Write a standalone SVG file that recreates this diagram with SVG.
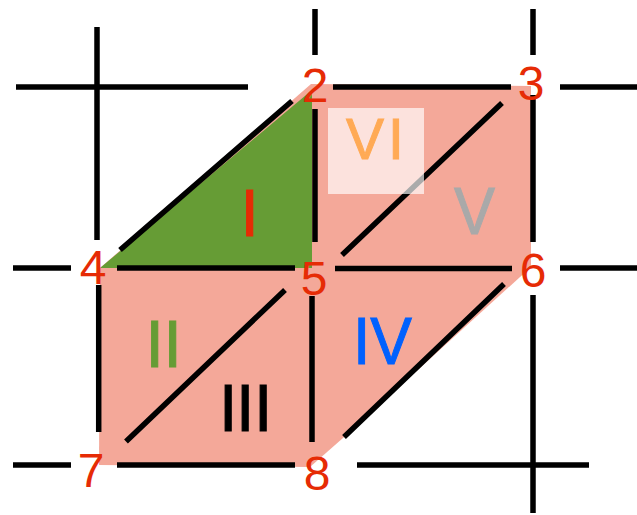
<svg xmlns="http://www.w3.org/2000/svg" width="637" height="515" viewBox="0 0 637 515">
<style>
.l{stroke:#000;stroke-width:5.5;fill:none}
text{font-family:"Liberation Sans",Arial,sans-serif}
.n{font-size:48px;fill:#e62b05;text-anchor:middle}
.r{font-size:66px;stroke-width:1}
</style>
<rect width="637" height="515" fill="#fff"/>
<g id="faces">
<polygon points="100,268 311,84 531,86 531,267 343,438 310,467 99,465" fill="#f4a899"/>
<polygon points="100,268 312,90 312,268" fill="#669c35"/>
</g>
<g id="connectors">
<path class="l" d="M97 27V240M16 87H248M315 9V55M315 109V242M533 9V55M533 95V242M333 87H511M560 87H637"/>
<path class="l" d="M292 101L120 250M13 268H71M117 268H295M335 268.500H512M560 268H637"/>
<path class="l" d="M98.700 285V432M285 290L126 441.500M312 296V442M13 465H71M117 465H295M357 465H589M533 295V513"/>
<path class="l" d="M502 103L342 255M504 284L344 437"/>
</g>
<rect id="panel" x="328" y="108" width="96" height="86" fill="#fff" fill-opacity="0.67"/>
<g id="face-I"><text class="r" x="240.500" y="235.500" fill="#e62b05" stroke="#e62b05">I</text></g>
<g id="face-II"><text class="r" x="145.500 163.500" y="366.500" fill="#669c35" stroke="#669c35">II</text></g>
<g id="face-III"><text class="r" x="219 236 254" y="430.500" fill="#000" stroke="#000">III</text></g>
<g id="face-IV"><text class="r" x="353" y="364" textLength="59" lengthAdjust="spacingAndGlyphs" fill="#0061fe" stroke="#0061fe">IV</text></g>
<g id="face-V"><text class="r" x="454" y="233.500" textLength="41" lengthAdjust="spacingAndGlyphs" fill="#a9a9a9" stroke="#a9a9a9">V</text></g>
<g id="face-VI"><text x="346 388" y="159" font-size="57" fill="#ffaa55" stroke="#ffaa55" stroke-width="1">VI</text></g>
<g id="node-2"><text class="n" x="315" y="102">2</text></g>
<g id="node-3"><text class="n" x="531" y="100">3</text></g>
<g id="node-4"><text class="n" x="93" y="284">4</text></g>
<g id="node-5"><text class="n" x="314" y="295">5</text></g>
<g id="node-6"><text class="n" x="533" y="287">6</text></g>
<g id="node-7"><text class="n" x="91" y="487">7</text></g>
<g id="node-8"><text class="n" x="317" y="490">8</text></g>
</svg>
